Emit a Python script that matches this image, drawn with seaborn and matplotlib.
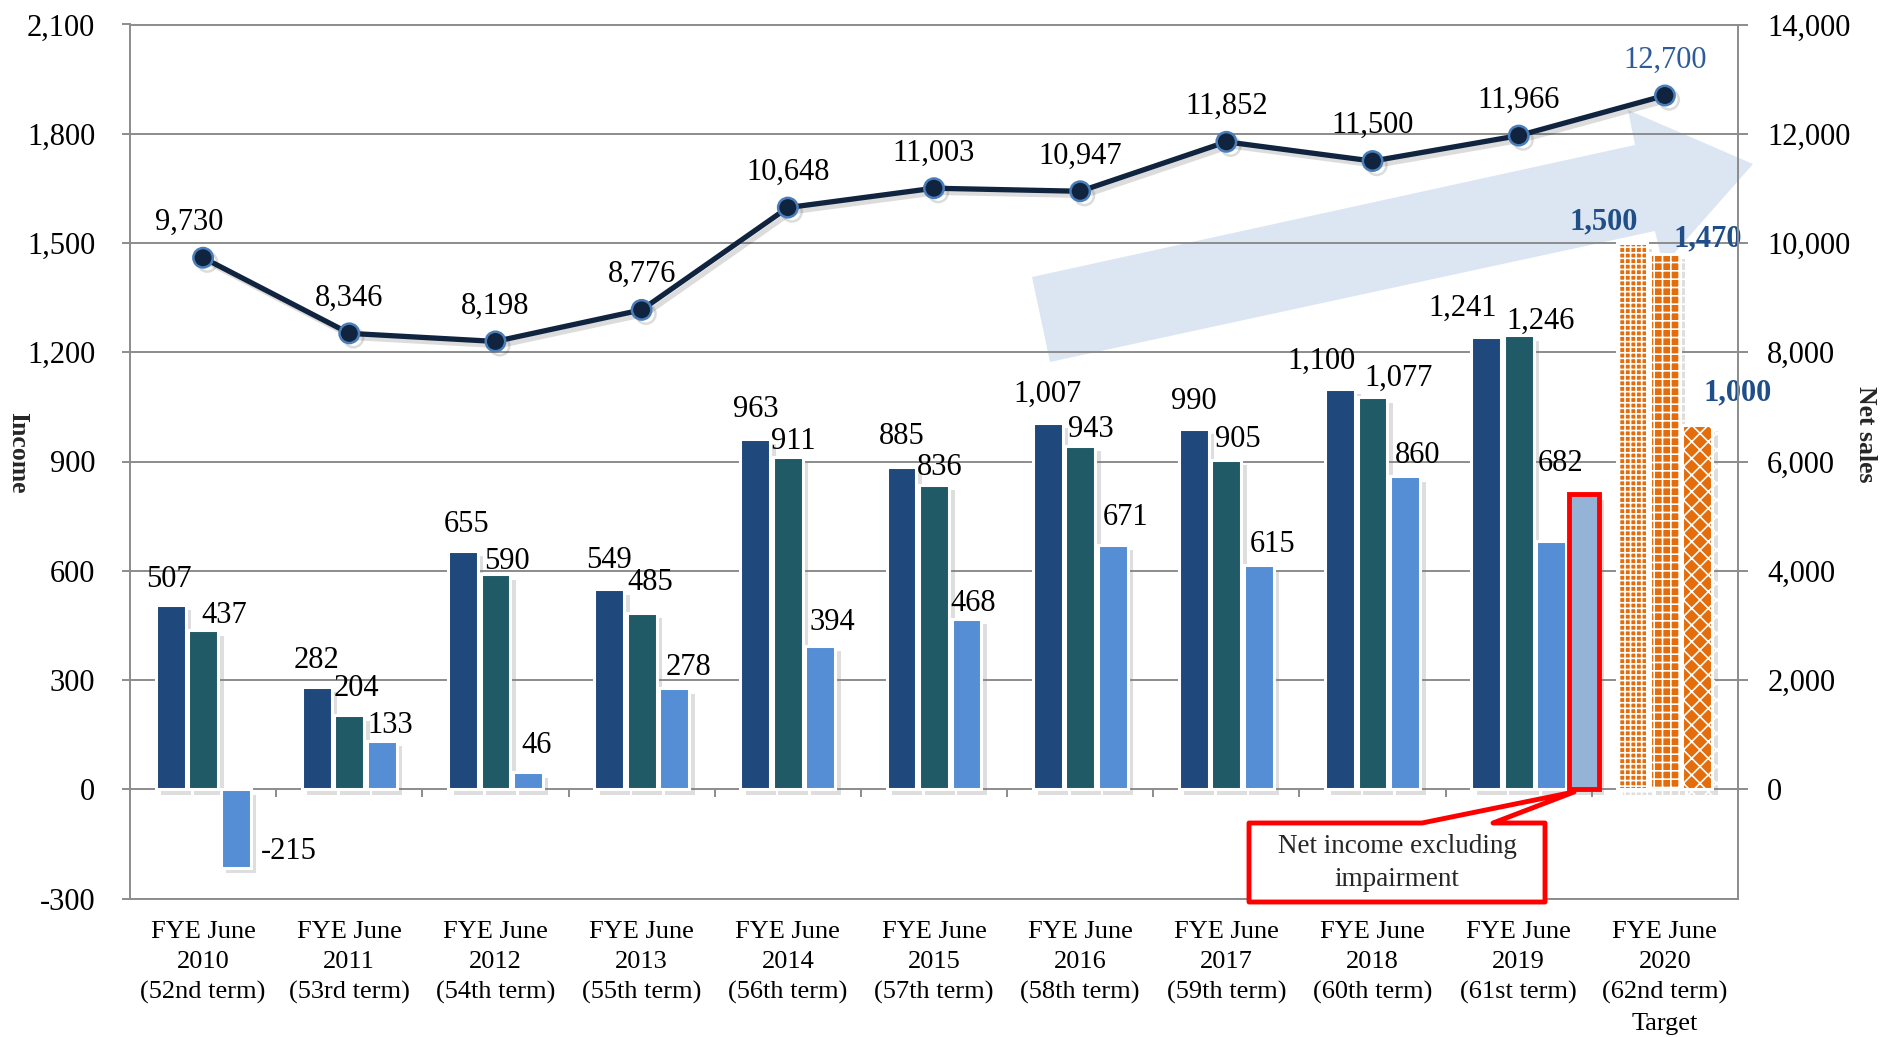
import matplotlib
matplotlib.use("Agg")
import matplotlib.pyplot as plt
import matplotlib.patheffects as pe
from matplotlib.patches import Polygon
from matplotlib.ticker import FuncFormatter, MultipleLocator
import numpy as np
import pandas as pd
import seaborn as sns

# ---- data ----
years = [
    "FYE June\n2010\n(52nd term)", "FYE June\n2011\n(53rd term)",
    "FYE June\n2012\n(54th term)", "FYE June\n2013\n(55th term)",
    "FYE June\n2014\n(56th term)", "FYE June\n2015\n(57th term)",
    "FYE June\n2016\n(58th term)", "FYE June\n2017\n(59th term)",
    "FYE June\n2018\n(60th term)", "FYE June\n2019\n(61st term)",
    "FYE June\n2020\n(62nd term)\nTarget",
]
series_names = ["Operating income", "Ordinary income", "Net income"]
operating_income = [507, 282, 655, 549, 963, 885, 1007, 990, 1100, 1241, 1500]
ordinary_income = [437, 204, 590, 485, 911, 836, 943, 905, 1077, 1246, 1470]
net_income = [-215, 133, 46, 278, 394, 468, 671, 615, 860, 682, 1000]
net_income_ex_impairment_2019 = 810
net_sales = [9730, 8346, 8198, 8776, 10648, 11003, 10947, 11852, 11500, 11966, 12700]

# ---- styling ----
bar_colors = ["#1F487C", "#215A67", "#558ED5"]
ex_color = "#95B3D7"
target_orange = "#E46C0A"
target_hatches = ["+++", "++", "xx"]
label_blue = "#1F4E89"
line_color = "#10243F"
grid_grey = "#8C8C8C"
W, H = 1881, 1037

# label offsets in points (dx, dy above bar top / point)
bar_label_dx = [
    [-1, 0, 2.5, 0, 0, 0, 0, 0, -13, -17, -21],
    [15, 5, 8, 6, 4, 4, 8, 8, 19, 16, 31],
    [18, 6, 6, 10, 9, 5, 9, 10, 9, 7, 29],
]
bar_label_dy = [
    [12.7, 13.7, 13.7, 15.5, 15.6, 16.3, 15.1, 13.9, 14.3, 15.4, 10],
    [5, 13.7, 4, 16.5, 6, 7.2, 6.3, 9.4, 8.4, 4.6, 5.5],
    [6, 5.5, 13.7, 9.1, 11.2, 5.8, 14.4, 9.4, 9.1, 50, 18],
]
line_label_dx = [-10, 0, 0, 0, 0, 0, 0, 0, 0, 0, 0]

sns.set_theme(style="white")
plt.rcParams["font.family"] = ["Liberation Serif", "DejaVu Serif"]
plt.rcParams["hatch.linewidth"] = 1.2

fig = plt.figure(figsize=(W / 100, H / 100), dpi=100, facecolor="white")
ax = fig.add_axes([130 / W, 1 - 898.5 / H, (1738 - 130) / W, (898.5 - 24.5) / H])
ax.patch.set_alpha(0)


def frac(pts):
    return [(x / W, 1 - y / H) for x, y in pts]


# big background trend arrow (decoration)
arrow = Polygon(frac([(1032, 277), (1635, 145), (1628, 110), (1753, 164),
                      (1663, 266), (1655, 231), (1050, 362)]),
                closed=True, transform=fig.transFigure, facecolor="#DCE6F2",
                edgecolor="none", zorder=-1)
fig.add_artist(arrow)

# ---- bars ----
df = pd.DataFrame({"year": years, series_names[0]: operating_income,
                   series_names[1]: ordinary_income, series_names[2]: net_income})
long_df = df.melt(id_vars="year", var_name="series", value_name="value")
sns.barplot(data=long_df, x="year", y="value", hue="series", hue_order=series_names,
            palette=bar_colors, saturation=1, width=0.667, gap=0.08,
            edgecolor="white", linewidth=2.2, errorbar=None, legend=False,
            ax=ax, zorder=3)

target_idx = len(years) - 1
ex_idx = [i for i, y in enumerate(years) if "2019" in y][0]

shadow = [pe.SimplePatchShadow(offset=(4, -4), shadow_rgbFace="#7f7f7f", alpha=0.25), pe.Normal()]
for k, cont in enumerate(ax.containers):
    for i, patch in enumerate(cont):
        patch.set_path_effects(shadow)
        if i == target_idx:
            patch.set_facecolor(target_orange)
            patch.set_edgecolor("white")
            patch.set_hatch(target_hatches[k])

# extra bar: 2019 net income excluding impairment
p_prev, p_last = ax.containers[1][ex_idx], ax.containers[2][ex_idx]
slot = p_last.get_x() - p_prev.get_x()
ex_bar = ax.bar(p_last.get_x() + slot, net_income_ex_impairment_2019, width=p_last.get_width(),
                align="edge", color=ex_color, edgecolor="#FF0000", linewidth=3.5, zorder=3)
ex_bar[0].set_path_effects(shadow)

# bar labels
for k, vals in enumerate([operating_income, ordinary_income, net_income]):
    for i, (patch, v) in enumerate(zip(ax.containers[k], vals)):
        xc = patch.get_x() + patch.get_width() / 2
        is_target = i == target_idx
        ax.annotate(f"{v:,}", (xc, v), xytext=(bar_label_dx[k][i], bar_label_dy[k][i]),
                    textcoords="offset points", ha="left" if v < 0 else "center",
                    va="baseline", fontsize=22,
                    fontweight="bold" if is_target else "normal",
                    color=label_blue if is_target else "black", zorder=6)

# ---- axes styling (income) ----
ax.set_ylim(-300, 2100)
ax.yaxis.set_major_locator(MultipleLocator(300))
ax.yaxis.set_major_formatter(FuncFormatter(lambda v, _: f"{v:,.0f}"))
ax.yaxis.grid(True, color=grid_grey, linewidth=1.4)
ax.set_axisbelow(True)
ax.set_xlabel("")
ax.set_ylabel("")
ax.tick_params(axis="y", left=True, length=6, width=1.4, color=grid_grey,
               direction="out", pad=19, labelsize=22, labelcolor="black")
for side in ["left", "bottom", "top"]:
    ax.spines[side].set_color(grid_grey)
    ax.spines[side].set_linewidth(1.4)
ax.spines["right"].set_visible(False)

# category boundary ticks on the zero line
bounds = np.arange(len(years) - 1) + 0.5
ax.vlines(bounds, -22, 0, color=grid_grey, linewidth=1.4, zorder=2)

# ---- net sales line ----
ax2 = ax.twinx()
positions = np.arange(len(years))
sns.lineplot(x=positions, y=net_sales, ax=ax2, color=line_color, linewidth=3.8,
             marker="o", markersize=14, markerfacecolor=line_color,
             markeredgecolor="#4A7EBB", markeredgewidth=1.8, zorder=4,
             path_effects=[pe.SimpleLineShadow(offset=(3, -3), alpha=0.15), pe.Normal()])
for i, v in enumerate(net_sales):
    ax2.annotate(f"{v:,}", (positions[i], v), xytext=(line_label_dx[i], 20),
                 textcoords="offset points", ha="center", va="baseline", fontsize=22,
                 color="#2E5C9A" if i == target_idx else "black", zorder=6)

ax2.set_ylim(-2000, 14000)
ax2.set_yticks(np.arange(0, 14001, 2000))
ax2.yaxis.set_major_formatter(FuncFormatter(lambda v, _: f"{v:,.0f}"))
ax2.set_ylabel("")
ax2.grid(False)
ax2.tick_params(axis="y", right=True, length=7, width=1.4, color=grid_grey,
                direction="out", pad=14, labelsize=22, labelcolor="black")
for side in ["left", "top", "bottom"]:
    ax2.spines[side].set_visible(False)
ax2.spines["right"].set_color(grid_grey)
ax2.spines["right"].set_linewidth(1.4)

ax.set_xlim(-0.5, len(years) - 0.5)
ax.set_xticks(positions)
ax.set_xticklabels(years)
ax.tick_params(axis="x", bottom=False, length=0, pad=16, labelsize=19, labelcolor="black")
for lab in ax.get_xticklabels():
    lab.set_linespacing(1.48)

# axis titles
fig.text(18 / W, 1 - 453 / H, "Income", rotation=-90, ha="center", va="center",
         fontsize=18.5, fontweight="bold")
fig.text(1866 / W, 1 - 434 / H, "Net sales", rotation=-90, ha="center", va="center",
         fontsize=18.5, fontweight="bold")

# callout for the impairment bar
callout = Polygon(frac([(1249, 823), (1422, 823), (1574, 792), (1493, 823),
                        (1545, 823), (1545, 902), (1249, 902)]),
                  closed=True, transform=fig.transFigure, facecolor="white",
                  edgecolor="#FF0000", linewidth=3.5, joinstyle="round", zorder=5)
fig.add_artist(callout)
fig.text(1397 / W, 1 - 863 / H, "Net income excluding\nimpairment", ha="center",
         va="center", fontsize=19.5, linespacing=1.4, zorder=6)

fig.savefig("out.png", dpi=100, facecolor="white")
